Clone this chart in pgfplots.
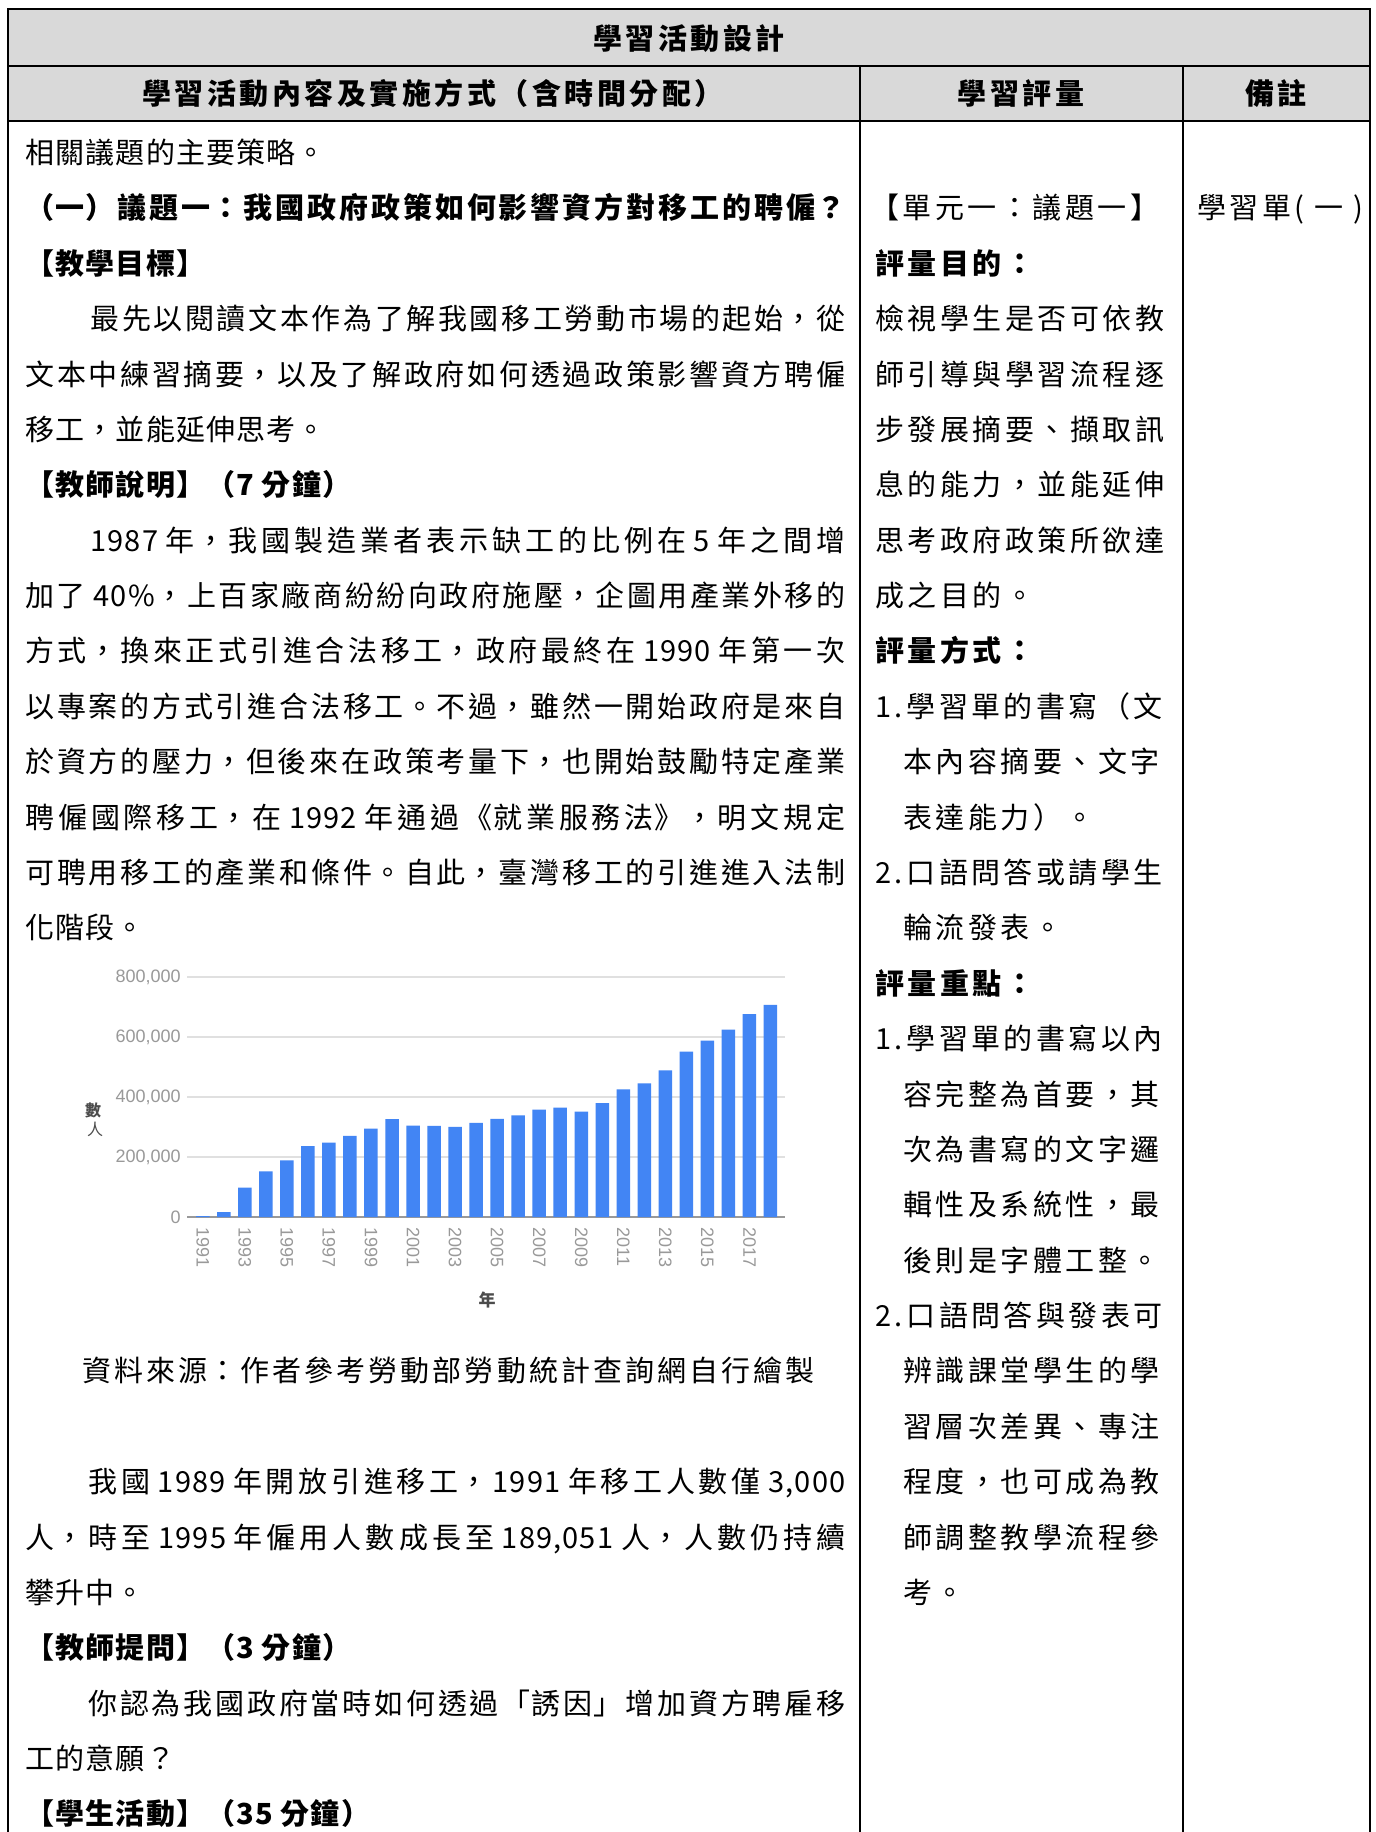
\documentclass[border=0pt]{standalone}
\usepackage{fontspec}
\usepackage{pgfplots}
\pgfplotsset{compat=1.18}
\newfontfamily\lf[LetterSpace=4]{Noto Sans CJK TC}
\newfontfamily\rf[LetterSpace=12]{Noto Sans CJK TC}
\newfontfamily\ls{Liberation Sans}
\definecolor{gblue}{HTML}{4285F4}
\definecolor{hdr}{HTML}{D9D9D9}
\newcommand\fs{\fontsize{14.5pt}{17pt}\selectfont}
\newcommand\jl[2]{\parbox[b]{#1}{\lf\fs\XeTeXlinebreaklocale "zh"\XeTeXlinebreakskip=0pt plus 1fil\relax\parfillskip=0pt\relax\parindent=0pt\relax\tolerance=10000\relax #2}}
\newcommand\LL[3]{\node[anchor=base west,inner sep=0pt] at (#1,#2) {\lf\fs #3};}
\newcommand\JJ[4]{\node[anchor=base west,inner sep=0pt] at (#1,#2) {\jl{#3}{#4}};}
\newcommand\RR[3]{\node[anchor=base west,inner sep=0pt] at (#1,#2) {\rf\fs #3};}
\pgfplotstableread{
year value
1991 2999
1992 15924
1993 97565
1994 151989
1995 189051
1996 236555
1997 248108
1998 270620
1999 294967
2000 326515
2001 304605
2002 303684
2003 300150
2004 314034
2005 327396
2006 338755
2007 357937
2008 365060
2009 351016
2010 379653
2011 425660
2012 445579
2013 489134
2014 551596
2015 587940
2016 624768
2017 676142
2018 706850
}\workers
\begin{document}
\begin{tikzpicture}
\useasboundingbox (0pt,0pt) rectangle (688pt,-916pt);
\clip (0pt,0pt) rectangle (688pt,-916pt);
\begin{scope}[x=0.5pt,y=-0.5pt]
\fill[white] (0,0) rectangle (1376,1832);
\fill[hdr] (8,9) rectangle (1370,121);
\draw[line width=1pt] (8,1850) -- (8,9) -- (1370,9) -- (1370,1850);
\draw[line width=1pt] (8,66) -- (1370,66);
\draw[line width=1pt] (8,121) -- (1370,121);
\draw[line width=1pt] (860,66) -- (860,1850);
\draw[line width=1pt] (1183,66) -- (1183,1850);
% headers
\node[anchor=base,inner sep=0pt] at (689,49) {\rf\fs\bfseries 學習活動設計};
\node[anchor=base,inner sep=0pt] at (433,104) {\rf\fs\bfseries 學習活動內容及實施方式（含時間分配）};
\node[anchor=base,inner sep=0pt] at (1021,104) {\rf\fs\bfseries 學習評量};
\node[anchor=base,inner sep=0pt] at (1276,104) {\rf\fs\bfseries 備註};
% left column
\LL{25}{163.5}{相關議題的主要策略。}
\JJ{25}{218.9}{410pt}{\bfseries （一）議題一：我國政府政策如何影響資方對移工的聘僱？}
\LL{25}{274.3}{\bfseries 【教學目標】}
\JJ{90}{329.6}{377.5pt}{最先以閱讀文本作為了解我國移工勞動市場的起始，從}
\JJ{25}{385.0}{410pt}{文本中練習摘要，以及了解政府如何透過政策影響資方聘僱}
\LL{25}{440.4}{移工，並能延伸思考。}
\LL{25}{495.8}{\bfseries 【教師說明】（7 分鐘）}
\JJ{90}{551.2}{377.5pt}{1987 年，我國製造業者表示缺工的比例在 5 年之間增}
\JJ{25}{606.5}{410pt}{加了 40\%，上百家廠商紛紛向政府施壓，企圖用產業外移的}
\JJ{25}{661.9}{410pt}{方式，換來正式引進合法移工，政府最終在 1990 年第一次}
\JJ{25}{717.3}{410pt}{以專案的方式引進合法移工。不過，雖然一開始政府是來自}
\JJ{25}{772.7}{410pt}{於資方的壓力，但後來在政策考量下，也開始鼓勵特定產業}
\JJ{25}{828.1}{410pt}{聘僱國際移工，在 1992 年通過《就業服務法》，明文規定}
\JJ{25}{883.4}{410pt}{可聘用移工的產業和條件。自此，臺灣移工的引進進入法制}
\LL{25}{938.8}{化階段。}
\JJ{82}{1381.9}{366pt}{資料來源：作者參考勞動部勞動統計查詢網自行繪製}
\JJ{88}{1492.6}{378.5pt}{我國 1989 年開放引進移工，1991 年移工人數僅 3,000}
\JJ{25}{1548.0}{410pt}{人，時至 1995 年僱用人數成長至 189,051 人，人數仍持續}
\LL{25}{1603.4}{攀升中。}
\LL{25}{1658.8}{\bfseries 【教師提問】（3 分鐘）}
\JJ{88}{1714.1}{378.5pt}{你認為我國政府當時如何透過「誘因」增加資方聘雇移}
\LL{25}{1769.5}{工的意願？}
\LL{25}{1824.9}{\bfseries 【學生活動】（35 分鐘）}
% middle column
\RR{870}{218.9}{【單元一：議題一】}
\RR{875}{274.3}{\bfseries 評量目的：}
\RR{875}{329.6}{檢視學生是否可依教}
\RR{875}{385.0}{師引導與學習流程逐}
\RR{875}{440.4}{步發展摘要、擷取訊}
\RR{875}{495.8}{息的能力，並能延伸}
\RR{875}{551.2}{思考政府政策所欲達}
\RR{875}{606.5}{成之目的。}
\RR{875}{661.9}{\bfseries 評量方式：}
\RR{875}{717.3}{1.學習單的書寫（文}
\RR{903}{772.7}{本內容摘要、文字}
\RR{903}{828.1}{表達能力）。}
\RR{875}{883.4}{2.口語問答或請學生}
\RR{903}{938.8}{輪流發表。}
\RR{875}{994.2}{\bfseries 評量重點：}
\RR{875}{1049.6}{1.學習單的書寫以內}
\RR{903}{1105.0}{容完整為首要，其}
\RR{903}{1160.3}{次為書寫的文字邏}
\RR{903}{1215.7}{輯性及系統性，最}
\RR{903}{1271.1}{後則是字體工整。}
\RR{875}{1326.5}{2.口語問答與發表可}
\RR{903}{1381.9}{辨識課堂學生的學}
\RR{903}{1437.2}{習層次差異、專注}
\RR{903}{1492.6}{程度，也可成為教}
\RR{903}{1548.0}{師調整教學流程參}
\RR{903}{1603.4}{考。}
% right column
\RR{1197}{218.9}{學習單( 一 )}
% chart axis titles
\node[inner sep=0pt,text=black!70] at (487,1300) {\lf\fontsize{8.5pt}{9pt}\selectfont\bfseries 年};
\node[inner sep=0pt,text=black!70] at (93,1110) {\lf\fontsize{8pt}{9pt}\selectfont\bfseries 數};
\node[inner sep=0pt,text=black!70] at (95,1129) {\lf\fontsize{8pt}{9pt}\selectfont 人};
\end{scope}
\begin{axis}[
  at={(93.5pt,-608.5pt)}, anchor=south west,
  scale only axis, width=299pt, height=120pt,
  xmin=1990.25, xmax=2018.69, ymin=0, ymax=800000,
  scaled y ticks=false,
  ybar, bar width=6.75pt,
  axis x line*=bottom, axis y line*=left,
  x axis line style={draw=black!40, line width=0.9pt},
  y axis line style={draw=none},
  major tick length=0pt,
  ytick={0,200000,400000,600000,800000},
  yticklabels={0,{200,000},{400,000},{600,000},{800,000}},
  xtick={1991,1993,...,2017},
  xticklabels={1991,1993,1995,1997,1999,2001,2003,2005,2007,2009,2011,2013,2015,2017},
  ymajorgrids,
  grid style={draw=black!12, line width=0.8pt},
  yticklabel style={font=\ls\fontsize{9pt}{10pt}\selectfont, text=black!40, inner xsep=3pt},
  xticklabel style={font=\ls\fontsize{9pt}{10pt}\selectfont, text=black!40, rotate=-90, anchor=west, inner xsep=5pt},
]
\addplot[fill=gblue, draw=none] table[x=year, y=value] {\workers};
\end{axis}
\end{tikzpicture}
\end{document}
